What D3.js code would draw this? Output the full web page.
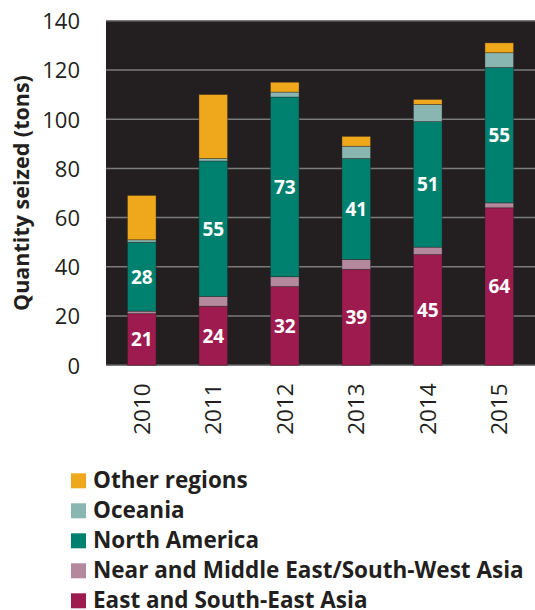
<!DOCTYPE html>
<html><head><meta charset="utf-8">
<script src="https://cdn.jsdelivr.net/npm/d3@7"></script>
<style>body{margin:0;background:#fff}svg{display:block}</style>
</head><body>
<svg id="c" width="535" height="610"></svg>
<script>
const years = ["2010","2011","2012","2013","2014","2015"];
const eastSEAsia = [21,24,32,39,45,64];
const nearMiddleEast = [1,4,4,4,3,2];
const northAmerica = [28,55,73,41,51,55];
const oceania = [1,1,2,5,7,6];
const otherRegions = [18,26,4,4,2,4];
const yTicks = [0,20,40,60,80,100,120,140];
const seriesNames = ["East and South-East Asia","Near and Middle East/South-West Asia","North America","Oceania","Other regions"];
const seriesColors = ["#9e1b4f","#b5899d","#00806e","#89b6b0","#efa81b"];
const labelSeries = [0,2];

const seriesData = [eastSEAsia, nearMiddleEast, northAmerica, oceania, otherRegions];
const table = years.map((y,i)=>{const o={year:y}; seriesNames.forEach((n,k)=>o[n]=seriesData[k][i]); return o;});
const stacked = d3.stack().keys(seriesNames)(table);

const svg = d3.select("#c");
const font = "'Open Sans', sans-serif";
const textCol = "#231f20";
const L=106, R=535, T=20.7, B=365.3;
const x = d3.scaleBand().domain(years).range([L,R]).paddingInner(0.6).paddingOuter(0.3);
const y = d3.scaleLinear().domain([0,140]).range([B,T]);

svg.append("rect").attr("x",L).attr("y",T).attr("width",R-L).attr("height",B-T).attr("fill","#231f20");
svg.append("g").selectAll("line").data(yTicks).join("line")
  .attr("x1",L).attr("x2",R).attr("y1",d=>y(d)).attr("y2",d=>y(d))
  .attr("stroke","#7b7b7b").attr("stroke-width",1.5);

const gs = svg.append("g").selectAll("g").data(stacked).join("g").attr("fill",(d,i)=>seriesColors[i]);
gs.selectAll("rect").data(d=>d).join("rect")
  .attr("x",d=>x(d.data.year)).attr("width",x.bandwidth())
  .attr("y",d=>y(d[1])).attr("height",d=>y(d[0])-y(d[1]))
  .attr("stroke","rgba(40,30,30,0.45)").attr("stroke-width",0.8);

labelSeries.forEach(k=>{
  svg.append("g").selectAll("text").data(stacked[k]).join("text")
    .attr("x",d=>x(d.data.year)+x.bandwidth()/2)
    .attr("y",d=>(y(d[0])+y(d[1]))/2)
    .attr("dy","0.36em").attr("text-anchor","middle")
    .attr("fill","#fff").attr("font-family",font).attr("font-weight","bold").attr("font-size",19)
    .text(d=>d[1]-d[0]);
});

// y axis
const ya = svg.append("g").attr("transform",`translate(${L},0)`)
  .call(d3.axisLeft(y).tickValues(yTicks).tickSize(0).tickPadding(26));
ya.select(".domain").remove();
ya.selectAll("text").attr("font-family",font).attr("font-size",22).attr("fill",textCol).attr("dy","0.36em");

// x axis
const xa = svg.append("g").attr("transform",`translate(0,${B})`)
  .call(d3.axisBottom(x).tickSize(0));
xa.select(".domain").remove();
xa.selectAll("text").attr("font-family",font).attr("font-size",22.5).attr("fill",textCol)
  .attr("transform","rotate(-90)").attr("text-anchor","end")
  .attr("x",-18).attr("y",0).attr("dy","0.36em");

// y title
svg.append("text").attr("transform",`translate(29,${(T+B)/2}) rotate(-90)`)
  .attr("text-anchor","middle").attr("font-family",font).attr("font-weight","bold")
  .attr("font-size",21.5).attr("fill",textCol).text("Quantity seized (tons)");

// legend
const legOrder = [4,3,2,1,0];
const lg = svg.append("g").selectAll("g").data(legOrder).join("g")
  .attr("transform",(d,i)=>`translate(71,${473.3+i*30})`);
lg.append("rect").attr("width",15).attr("height",15).attr("fill",d=>seriesColors[d]);
lg.append("text").attr("x",22).attr("y",14.5).attr("font-family",font).attr("font-weight","bold")
  .attr("font-size",22.5).attr("fill",textCol).text(d=>seriesNames[d]);
</script>
</body></html>
